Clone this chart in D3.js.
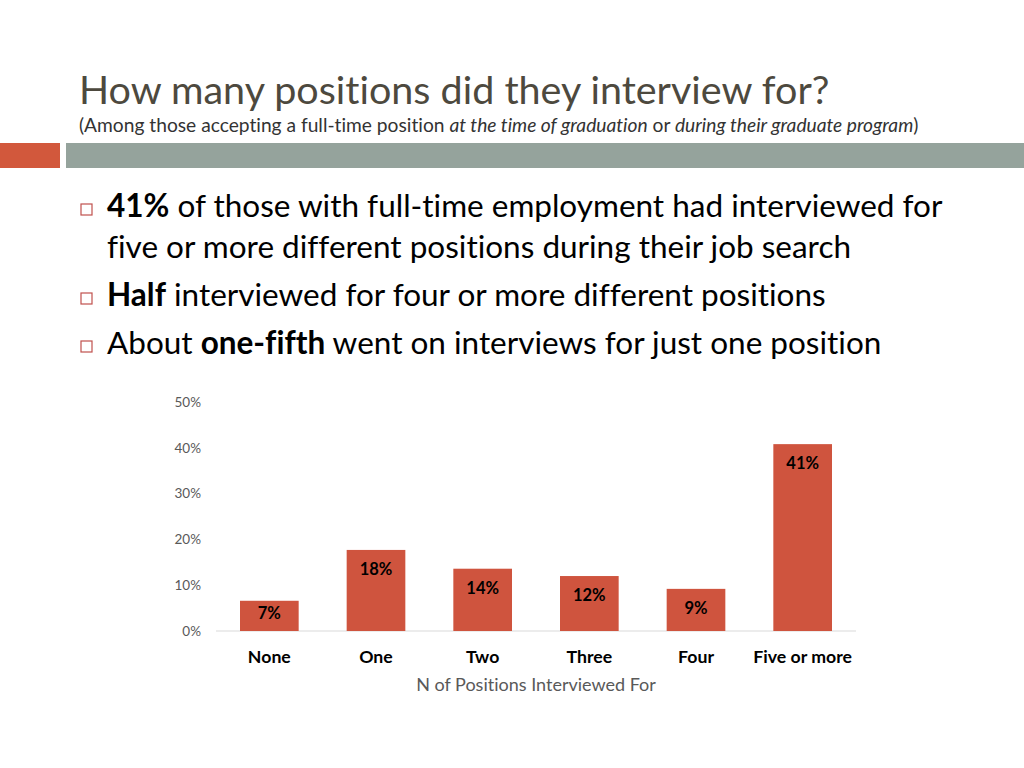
<!DOCTYPE html>
<html>
<head>
<meta charset="utf-8">
<script src="https://cdn.jsdelivr.net/npm/d3@7"></script>
<style>
  body { margin: 0; background: #fff; }
  svg { font-family: Lato, "Open Sans", sans-serif; font-variant-ligatures: none; }
  .axis { font-family: Lato, "Open Sans", sans-serif; }
  .axis path, .axis line { display: none; }
  .y.axis text { fill: #595959; font-size: 13.5px; }
  .x.axis text { fill: #000; font-size: 17.7px; font-weight: bold; }
  .bar { fill: #cf543e; }
  .baseline { stroke: #d9d9d9; stroke-width: 1; }
</style>
</head>
<body>
<div id="chart"></div>
<script>
var categories = ['None', 'One', 'Two', 'Three', 'Four', 'Five or more'];
var shares = [0.066, 0.177, 0.136, 0.12, 0.092, 0.408];
var yTicks = [0, 0.1, 0.2, 0.3, 0.4, 0.5];

var bullets = [
  [[{t: '41%', b: true}, {t: ' of those with full-time employment had interviewed for'}],
   [{t: 'five or more different positions during their job search'}]],
  [[{t: 'Half', b: true}, {t: ' interviewed for four or more different positions'}]],
  [[{t: 'About '}, {t: 'one-fifth', b: true}, {t: ' went on interviews for just one position'}]]
];

var _width = 1024, _height = 768,
  _margins = {top: 402, left: 216, right: 168, bottom: 137};

var svg = d3.select('#chart').append('svg')
  .attr('width', _width)
  .attr('height', _height);

// slide header
svg.append('text')
  .attr('x', 79).attr('y', 104)
  .attr('fill', '#4d493e')
  .style('font-size', '39.5px')
  .text('How many positions did they interview for?');

var sub = svg.append('text')
  .attr('x', 79).attr('y', 132)
  .attr('fill', '#333')
  .style('font-size', '19.2px');
sub.append('tspan').text('(Among those accepting a full-time position ');
sub.append('tspan').style('font-style', 'italic').text('at the time of graduation');
sub.append('tspan').text(' or ');
sub.append('tspan').style('font-style', 'italic').text('during their graduate program');
sub.append('tspan').text(')');

svg.append('rect')
  .attr('x', 0).attr('y', 143).attr('width', 60).attr('height', 25)
  .attr('fill', '#d2583c');
svg.append('rect')
  .attr('x', 66).attr('y', 143).attr('width', _width - 66).attr('height', 25)
  .attr('fill', '#95a39c');

// bullet list
var lineY = 217;
bullets.forEach(function (item) {
  svg.append('rect')
    .attr('x', 81).attr('y', lineY - 13).attr('width', 11).attr('height', 11)
    .attr('fill', 'none').attr('stroke', '#c0504d').attr('stroke-width', 1.2);
  item.forEach(function (line, i) {
    var t = svg.append('text')
      .attr('x', 107).attr('y', lineY)
      .attr('fill', '#000')
      .style('font-size', '31.5px');
    line.forEach(function (part) {
      t.append('tspan')
        .style('font-weight', part.b ? 'bold' : 'normal')
        .text(part.t);
    });
    lineY += (i < item.length - 1) ? 41 : 0;
  });
  lineY += 48;
});

// chart
var qw = _width - _margins.left - _margins.right,
  qh = _height - _margins.top - _margins.bottom;

var x = d3.scaleBand().domain(categories).range([0, qw]).paddingInner(0.45).paddingOuter(0.225);
var y = d3.scaleLinear().domain([0, 0.5]).range([qh, 0]);

var g = svg.append('g')
  .attr('transform', 'translate(' + _margins.left + ',' + _margins.top + ')');

g.append('g')
  .attr('class', 'y axis')
  .attr('transform', 'translate(-10,0)')
  .call(d3.axisLeft(y).tickValues(yTicks).tickFormat(d3.format('.0%')).tickSize(0).tickPadding(5))
  .attr('font-family', null)
  .selectAll('text').attr('dy', '0.32em');

g.append('line')
  .attr('class', 'baseline')
  .attr('x1', 0).attr('x2', qw)
  .attr('y1', y(0)).attr('y2', y(0));

g.selectAll('rect.bar')
  .data(shares)
  .enter().append('rect')
  .attr('class', 'bar')
  .attr('x', function (d, i) { return x(categories[i]); })
  .attr('y', function (d) { return y(d); })
  .attr('width', x.bandwidth())
  .attr('height', function (d) { return y(0) - y(d); });

// labels sit inside the top of the bar, pulled up on short bars
g.selectAll('text.val')
  .data(shares)
  .enter().append('text')
  .attr('class', 'val')
  .attr('x', function (d, i) { return x(categories[i]) + x.bandwidth() / 2; })
  .attr('y', function (d) { return y(d) + Math.min(25, (y(0) - y(d)) * 0.6); })
  .attr('text-anchor', 'middle')
  .style('font-size', '16.5px')
  .style('font-weight', 'bold')
  .attr('fill', '#000')
  .text(d3.format('.0%'));

g.append('g')
  .attr('class', 'x axis')
  .attr('transform', 'translate(0,' + qh + ')')
  .call(d3.axisBottom(x).tickSize(0).tickPadding(19))
  .attr('font-family', null);

svg.append('text')
  .attr('x', _margins.left + qw / 2)
  .attr('y', 691)
  .attr('text-anchor', 'middle')
  .attr('fill', '#595959')
  .style('font-size', '18px')
  .text('N of Positions Interviewed For');
</script>
</body>
</html>
